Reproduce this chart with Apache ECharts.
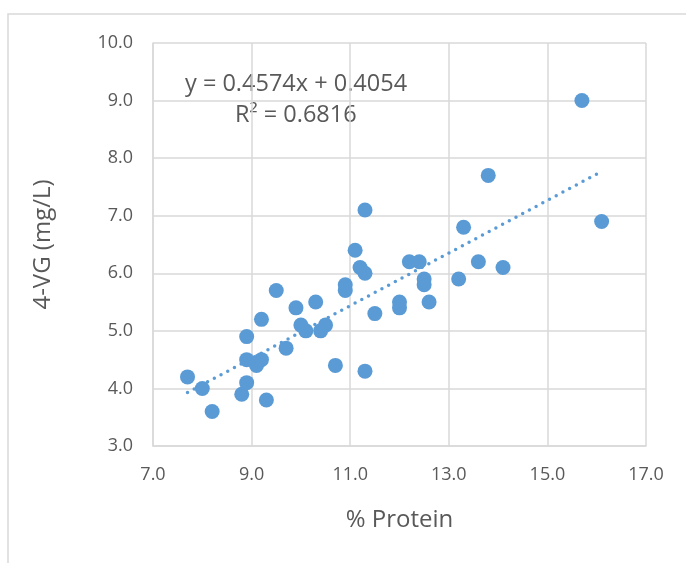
<!DOCTYPE html>
<html>
<head>
<meta charset="utf-8">
<script src="https://cdn.jsdelivr.net/npm/echarts@6/dist/echarts.min.js"></script>
<style>
  html, body { margin: 0; padding: 0; background: #fff; }
  #chart { width: 686px; height: 563px; }
</style>
</head>
<body>
<div id="chart"></div>
<script>
// % Protein vs 4-VG
let protein = [7.7, 8.0, 8.2, 8.8, 8.9, 8.9, 8.9, 9.1, 9.2, 9.2, 9.3, 9.5, 9.7, 9.9,
               10.0, 10.1, 10.3, 10.4, 10.5, 10.7, 10.9, 10.9, 11.1, 11.2, 11.3, 11.3,
               11.3, 11.5, 12.0, 12.0, 12.2, 12.4, 12.5, 12.5, 12.6, 13.2, 13.3, 13.6,
               13.8, 14.1, 15.7, 16.1];
let vg = [4.2, 4.0, 3.6, 3.9, 4.1, 4.5, 4.9, 4.4, 4.5, 5.2, 3.8, 5.7, 4.7, 5.4,
          5.1, 5.0, 5.5, 5.0, 5.1, 4.4, 5.8, 5.7, 6.4, 6.1, 6.0, 7.1,
          4.3, 5.3, 5.5, 5.4, 6.2, 6.2, 5.9, 5.8, 5.5, 5.9, 6.8, 6.2,
          7.7, 6.1, 9.0, 6.9];

// linear trend as printed on the chart
let slope = 0.4574,
    intercept = 0.4054,
    trendText = ['y = 0.4574x + 0.4054', 'R² = 0.6816'];

let xTicks = [7, 9, 11, 13, 15, 17];
let yTicks = [3, 4, 5, 6, 7, 8, 9, 10];

let points = protein.map(function (x, i) { return [x, vg[i]]; });
let xMin = Math.min.apply(null, protein),
    xMax = Math.max.apply(null, protein);
let trend = [[xMin, slope * xMin + intercept], [xMax, slope * xMax + intercept]];

let blue = '#5B9BD5',
    gridColor = '#D9D9D9',
    textColor = '#595959',
    font = 'Open Sans';

let tickLabel = {
    fontSize: 18, color: textColor, fontFamily: font, margin: 20,
    formatter: function (v) { return v.toFixed(1); }
};

let chart = echarts.init(document.getElementById('chart'), null, { renderer: 'canvas' });
chart.setOption({
    animation: false,
    backgroundColor: '#fff',
    grid: { left: 153, right: 40, top: 43, bottom: 117 },
    xAxis: {
        type: 'value',
        min: xTicks[0],
        max: xTicks[xTicks.length - 1],
        interval: 2,
        name: '% Protein',
        nameLocation: 'middle',
        nameGap: 62,
        nameTextStyle: { fontSize: 24, color: textColor, fontFamily: font },
        axisLine: { show: true, lineStyle: { color: gridColor, width: 1.5 } },
        axisTick: { show: false },
        axisLabel: tickLabel,
        splitLine: { show: true, lineStyle: { color: gridColor, width: 1.5 } }
    },
    yAxis: {
        type: 'value',
        min: yTicks[0],
        max: yTicks[yTicks.length - 1],
        interval: 1,
        name: '4-VG (mg/L)',
        nameLocation: 'middle',
        nameGap: 98,
        nameRotate: 90,
        nameTextStyle: { fontSize: 24, color: textColor, fontFamily: font },
        axisLine: { show: true, lineStyle: { color: gridColor, width: 1.5 } },
        axisTick: { show: false },
        axisLabel: tickLabel,
        splitLine: { show: true, lineStyle: { color: gridColor, width: 1.5 } }
    },
    series: [{
        type: 'scatter',
        data: points,
        symbolSize: 15,
        itemStyle: { color: blue, opacity: 1 },
        z: 3
    }, {
        type: 'line',
        data: trend,
        symbol: 'none',
        silent: true,
        lineStyle: { color: blue, width: 3.5, type: [0, 7.6], cap: 'round' },
        z: 2
    }],
    graphic: [{
        type: 'rect',
        shape: { x: 8, y: 14, width: 700, height: 560 },
        style: { fill: 'none', stroke: gridColor, lineWidth: 1.5 },
        silent: true
    }, {
        type: 'text',
        x: 185, y: 84,
        style: { text: trendText[0], fontSize: 23.5, fill: textColor, fontFamily: font, verticalAlign: 'middle' }
    }, {
        type: 'text',
        x: 235, y: 115,
        style: { text: trendText[1], fontSize: 23.5, fill: textColor, fontFamily: font, verticalAlign: 'middle' }
    }]
});
</script>
</body>
</html>
